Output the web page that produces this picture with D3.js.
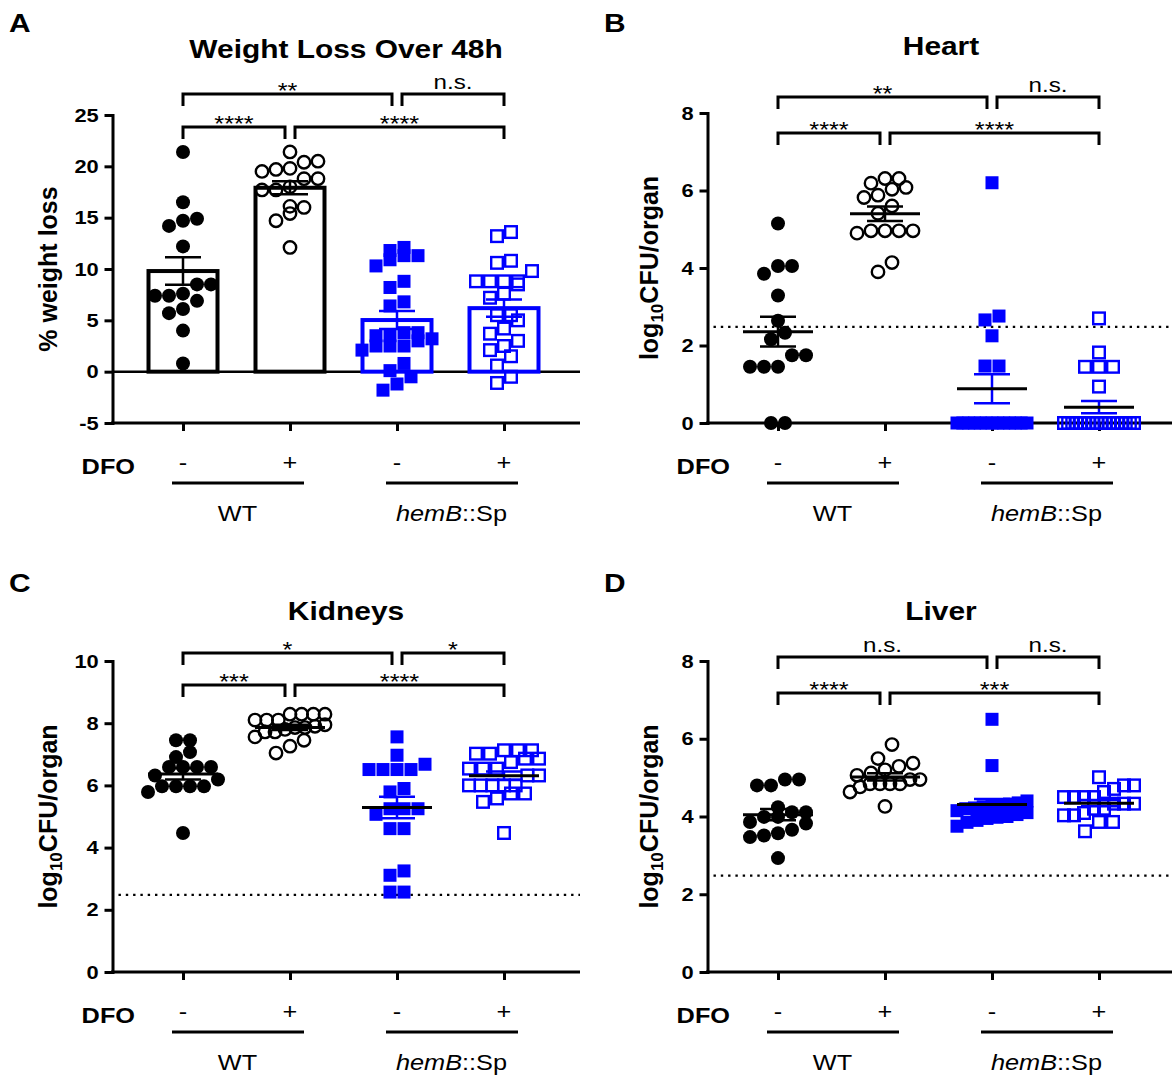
<!DOCTYPE html>
<html>
<head>
<meta charset="utf-8">
<script src="https://cdn.jsdelivr.net/npm/d3@7"></script>
<style>
  body { margin: 0; background: #fff; }
  text { font-family: "Liberation Sans", Arial, Helvetica, sans-serif; fill: #000; }
</style>
</head>
<body>
<svg id="fig" width="1172" height="1076"></svg>
<script>
// groups along the x axis
var groups = ["WT-", "WT+", "hemB-", "hemB+"];
var dfoLabels = ["-", "+", "-", "+"];
var strains = ["WT", "hemB"];

// % weight loss, one array per group
var weightWT = [21.4, 16.5, 14.9, 14.7, 14.2, 12.2, 8.5, 8.5, 7.6, 7.4, 7.4, 6.9, 6.1, 5.7, 4.0, 0.8];
var weightWTdfo = [21.4, 20.5, 20.4, 19.8, 19.7, 19.5, 18.8, 18.8, 18.0, 17.7, 17.7, 16.1, 16.0, 15.4, 14.7, 12.1];
var weightHem = [12.1, 11.8, 11.3, 11.3, 10.9, 10.3, 8.8, 8.2, 6.8, 6.4, 3.8, 3.8, 3.5, 3.5, 3.2, 3.0, 2.5, 2.5, 2.5, 2.1, 0.8, 0.1, -0.5, -1.2, -1.8];
var weightHemDfo = [13.6, 13.2, 10.8, 10.6, 9.8, 8.8, 8.8, 8.8, 8.8, 8.5, 7.6, 7.2, 5.5, 5.5, 5.0, 4.2, 3.7, 3.0, 2.5, 2.1, 1.5, 0.6, -0.5, -1.1];

// log10 CFU / organ
var heartWT = [5.15, 4.05, 4.05, 3.85, 3.29, 2.64, 2.33, 2.16, 1.75, 1.75, 1.45, 1.45, 1.45, 0, 0];
var heartWTdfo = [6.31, 6.31, 6.19, 6.08, 6.03, 5.88, 5.82, 5.6, 5.41, 4.96, 4.96, 4.96, 4.96, 4.9, 4.14, 3.9];
var heartHem = [6.2, 2.76, 2.66, 2.25, 1.47, 1.47, 0, 0, 0, 0, 0, 0, 0, 0, 0, 0, 0, 0, 0];
var heartHemDfo = [2.7, 1.82, 1.45, 1.45, 1.45, 0.94, 0, 0, 0, 0, 0, 0, 0, 0, 0, 0, 0, 0, 0, 0, 0, 0, 0, 0];

var kidneyWT = [7.45, 7.45, 7.07, 6.91, 6.59, 6.59, 6.59, 6.59, 6.32, 6.19, 5.97, 5.97, 5.97, 5.97, 5.79, 4.47];
var kidneyWTdfo = [8.29, 8.29, 8.29, 8.29, 8.1, 8.1, 8.1, 7.95, 7.9, 7.86, 7.86, 7.8, 7.72, 7.72, 7.56, 7.45, 7.26, 7.04];
var kidneyHem = [7.56, 6.97, 6.68, 6.51, 6.51, 6.51, 6.51, 5.9, 5.79, 5.25, 5.25, 5.25, 5.07, 4.61, 4.61, 3.25, 3.11, 2.57, 2.57];
var kidneyHemDfo = [7.13, 7.13, 7.13, 7.02, 7.02, 6.86, 6.86, 6.75, 6.54, 6.54, 6.54, 6.32, 6.32, 6.0, 6.0, 6.0, 6.0, 6.0, 5.74, 5.74, 5.58, 5.47, 4.47];

var liverWT = [4.95, 4.95, 4.8, 4.8, 4.24, 4.11, 4.11, 3.99, 3.99, 3.86, 3.82, 3.66, 3.57, 3.51, 3.47, 2.93];
var liverWTdfo = [5.85, 5.49, 5.37, 5.29, 5.2, 5.12, 5.06, 4.95, 4.95, 4.84, 4.84, 4.84, 4.84, 4.76, 4.63, 4.26];
var liverHem = [6.5, 5.31, 4.4, 4.35, 4.32, 4.3, 4.28, 4.25, 4.22, 4.2, 4.15, 4.1, 4.05, 4.0, 3.98, 3.95, 3.9, 3.85, 3.75];
var liverHemDfo = [5.01, 4.8, 4.8, 4.71, 4.63, 4.5, 4.5, 4.5, 4.5, 4.33, 4.33, 4.33, 4.2, 4.2, 4.09, 4.03, 4.03, 3.86, 3.86, 3.62];

// tick values
var weightTicks = [-5, 0, 5, 10, 15, 20, 25];
var heartTicks = [0, 2, 4, 6, 8];
var kidneyTicks = [0, 2, 4, 6, 8, 10];
var liverTicks = [0, 2, 4, 6, 8];

// comparisons: [from group, to group, label, row]
var weightStats = [[0, 1, "****", 0], [1, 3, "****", 0], [0, 2, "**", 1], [2, 3, "n.s.", 1]];
var heartStats = [[0, 1, "****", 0], [1, 3, "****", 0], [0, 2, "**", 1], [2, 3, "n.s.", 1]];
var kidneyStats = [[0, 1, "***", 0], [1, 3, "****", 0], [0, 2, "*", 1], [2, 3, "*", 1]];
var liverStats = [[0, 1, "****", 0], [1, 3, "***", 0], [0, 2, "n.s.", 1], [2, 3, "n.s.", 1]];

var detectionLimit = 2.48;

var blue = "#0000ff";
var groupColor = ["#000", "#000", blue, blue];
var groupShape = ["circle", "circle", "square", "square"];
var groupFilled = [true, false, true, false];
var SX = 1.15; // horizontal stretch of the figure's lettering

var svg = d3.select("#fig");

function label(g, x, y, str, size, weight, anchor) {
  return g.append("text")
    .attr("transform", "translate(" + x + "," + y + ") scale(" + SX + ",1)")
    .attr("text-anchor", anchor || "middle")
    .style("font-size", size + "px")
    .style("font-weight", weight || "normal")
    .text(str);
}

// GraphPad-like scatter: rows of nearby points spread sideways
function swarm(vals, cx, y, size, maxHalf) {
  var pts = vals.map(function(v) { return {v: v, py: y(v)}; })
    .sort(function(a, b) { return b.py - a.py; });
  var rows = [], cur = null;
  pts.forEach(function(p) {
    if (cur && cur.start - p.py < size) cur.items.push(p);
    else { cur = {start: p.py, items: [p]}; rows.push(cur); }
  });
  rows.forEach(function(r) {
    var n = r.items.length;
    var sp = n > 1 ? Math.min(size, 2 * maxHalf / (n - 1)) : 0;
    r.items.forEach(function(p, k) { p.px = cx + (k - (n - 1) / 2) * sp; });
  });
  return pts;
}

function drawPanel(p) {
  var g = svg.append("g");
  var y = d3.scaleLinear().domain(p.domain).range([p.bottom, p.top]);
  var x = d3.scalePoint().domain(groups).range([p.ox + 183, p.ox + 504]);
  var axisX = p.ox + 112.5;

  // letter + title
  label(g, p.ox + 9, p.letterY, p.letter, 26, "bold", "start");
  label(g, p.ox + 346, p.titleY, p.title, 26, "bold");

  // y axis
  var ya = g.append("g").attr("transform", "translate(" + axisX + ",0)")
    .call(d3.axisLeft(y).tickValues(p.ticks).tickSize(8).tickSizeOuter(0).tickPadding(4)
      .tickFormat(function(d) { return String(d); }));
  ya.select(".domain").attr("stroke-width", 3).attr("stroke-linecap", "square");
  ya.selectAll(".tick line").attr("stroke-width", 3);
  ya.selectAll(".tick text").attr("transform", "scale(" + SX + ",1)")
    .style("font-size", "19px").style("font-weight", "bold")
    .style("font-family", "'Liberation Sans', Arial, sans-serif");

  // y label
  var yl = g.append("text")
    .attr("transform", "translate(" + p.ylabelX + "," + ((p.top + p.bottom) / 2) + ") rotate(-90)")
    .attr("text-anchor", "middle").style("font-size", "25px").style("font-weight", "bold");
  if (p.log) {
    yl.append("tspan").text("log");
    yl.append("tspan").text("10").style("font-size", "17px").attr("dy", 5);
    yl.append("tspan").text("CFU/organ").attr("dy", -5);
  } else {
    yl.text(p.ylabel);
  }

  // x axis
  var xa = g.append("g").attr("transform", "translate(0," + p.bottom + ")")
    .call(d3.axisBottom(x).tickSize(8).tickFormat(""));
  xa.select(".domain").remove();
  xa.selectAll(".tick line").attr("stroke-width", 3);
  g.append("line").attr("x1", axisX - 1.5).attr("x2", p.right)
    .attr("y1", p.bottom).attr("y2", p.bottom).attr("stroke", "#000").attr("stroke-width", 3);
  if (p.domain[0] < 0) {
    g.append("line").attr("x1", axisX).attr("x2", p.right)
      .attr("y1", y(0)).attr("y2", y(0)).attr("stroke", "#000").attr("stroke-width", 2.5);
  }

  // detection limit
  if (p.lod) {
    g.append("line").attr("x1", axisX + 6).attr("x2", p.right)
      .attr("y1", y(detectionLimit)).attr("y2", y(detectionLimit))
      .attr("stroke", "#000").attr("stroke-width", 2.4).attr("stroke-dasharray", "2.4,4.9");
  }

  // category labels under the axis
  groups.forEach(function(gr, i) {
    label(g, x(gr), p.bottom + 47, dfoLabels[i], 22);
  });
  label(g, p.ox + 135, p.bottom + 51, "DFO", 22, "bold", "end");
  strains.forEach(function(s, k) {
    var a = x(groups[2 * k]), b = x(groups[2 * k + 1]);
    g.append("line").attr("x1", a - 11).attr("x2", b + 14)
      .attr("y1", p.bottom + 60).attr("y2", p.bottom + 60)
      .attr("stroke", "#000").attr("stroke-width", 3);
    var t = label(g, (a + b) / 2 + 1, p.bottom + 98, "", 22);
    if (s === "hemB") {
      t.append("tspan").text("hemB").style("font-style", "italic");
      t.append("tspan").text("::Sp");
    } else {
      t.text(s);
    }
  });

  // bars (weight panel)
  p.data.forEach(function(vals, i) {
    var cx = x(groups[i]);
    var m = d3.mean(vals);
    if (p.bars) {
      g.append("rect").attr("x", cx - 34.5).attr("width", 69)
        .attr("y", y(m)).attr("height", y(0) - y(m))
        .attr("fill", "none").attr("stroke", groupColor[i]).attr("stroke-width", 4);
    }
  });

  // points
  p.data.forEach(function(vals, i) {
    var pts = swarm(vals, x(groups[i]), y, 14, 35);
    var col = groupColor[i], filled = groupFilled[i];
    if (groupShape[i] === "circle") {
      g.selectAll(null).data(pts).enter().append("circle")
        .attr("cx", function(d) { return d.px; })
        .attr("cy", function(d) { return d.py; })
        .attr("r", filled ? 7 : 6.2)
        .attr("fill", filled ? col : "none")
        .attr("stroke", filled ? "none" : col)
        .attr("stroke-width", 2.4);
    } else {
      var s = filled ? 13 : 11.6;
      g.selectAll(null).data(pts).enter().append("rect")
        .attr("x", function(d) { return d.px - s / 2; })
        .attr("y", function(d) { return d.py - s / 2; })
        .attr("width", s).attr("height", s)
        .attr("fill", filled ? col : "none")
        .attr("stroke", filled ? "none" : col)
        .attr("stroke-width", 2.4);
    }
  });

  // mean and SEM
  p.data.forEach(function(vals, i) {
    var cx = x(groups[i]);
    var m = d3.mean(vals);
    var se = d3.deviation(vals) / Math.sqrt(vals.length);
    var col = groupColor[i];
    var eb = g.append("g").attr("stroke", col).attr("stroke-width", 2.5);
    eb.append("line").attr("x1", cx).attr("x2", cx).attr("y1", y(m - se)).attr("y2", y(m + se));
    [m - se, m + se].forEach(function(v) {
      eb.append("line").attr("x1", cx - 18).attr("x2", cx + 18).attr("y1", y(v)).attr("y2", y(v));
    });
    if (!p.bars) {
      g.append("line").attr("x1", cx - 35).attr("x2", cx + 35).attr("y1", y(m)).attr("y2", y(m))
        .attr("stroke", "#000").attr("stroke-width", 3);
    }
  });

  // significance brackets
  p.stats.forEach(function(c) {
    var ly = p.rows[c[3]];
    var shared = function(idx) {
      return p.stats.some(function(o) { return o !== c && o[3] === c[3] && (o[0] === idx || o[1] === idx); });
    };
    var x1 = x(groups[c[0]]) + (shared(c[0]) ? 5 : 0);
    var x2 = x(groups[c[1]]) - (shared(c[1]) ? 5 : 0);
    g.append("path")
      .attr("d", "M" + x1 + "," + (ly + 12) + "V" + ly + "H" + x2 + "V" + (ly + 12))
      .attr("fill", "none").attr("stroke", "#000").attr("stroke-width", 3);
    if (c[2] === "n.s.") label(g, (x1 + x2) / 2, ly - 5, c[2], 21);
    else label(g, (x1 + x2) / 2, ly + 4, c[2], 22);
  });
}

var panels = [
  {letter: "A", title: "Weight Loss Over 48h", ylabel: "% weight loss", log: false, bars: true, lod: false,
   data: [weightWT, weightWTdfo, weightHem, weightHemDfo], ticks: weightTicks, stats: weightStats,
   domain: [-5, 25], ox: 0, top: 115, bottom: 423, right: 580, letterY: 32, titleY: 58, ylabelX: 57, rows: [127, 94]},
  {letter: "B", title: "Heart", log: true, bars: false, lod: true,
   data: [heartWT, heartWTdfo, heartHem, heartHemDfo], ticks: heartTicks, stats: heartStats,
   domain: [0, 8], ox: 595, top: 113, bottom: 423, right: 1172, letterY: 32, titleY: 55, ylabelX: 658, rows: [133, 97]},
  {letter: "C", title: "Kidneys", log: true, bars: false, lod: true,
   data: [kidneyWT, kidneyWTdfo, kidneyHem, kidneyHemDfo], ticks: kidneyTicks, stats: kidneyStats,
   domain: [0, 10], ox: 0, top: 661, bottom: 972, right: 580, letterY: 592, titleY: 620, ylabelX: 57, rows: [685, 653]},
  {letter: "D", title: "Liver", log: true, bars: false, lod: true,
   data: [liverWT, liverWTdfo, liverHem, liverHemDfo], ticks: liverTicks, stats: liverStats,
   domain: [0, 8], ox: 595, top: 661, bottom: 972, right: 1172, letterY: 592, titleY: 620, ylabelX: 658, rows: [693, 657]}
];

panels.forEach(drawPanel);
</script>
</body>
</html>
